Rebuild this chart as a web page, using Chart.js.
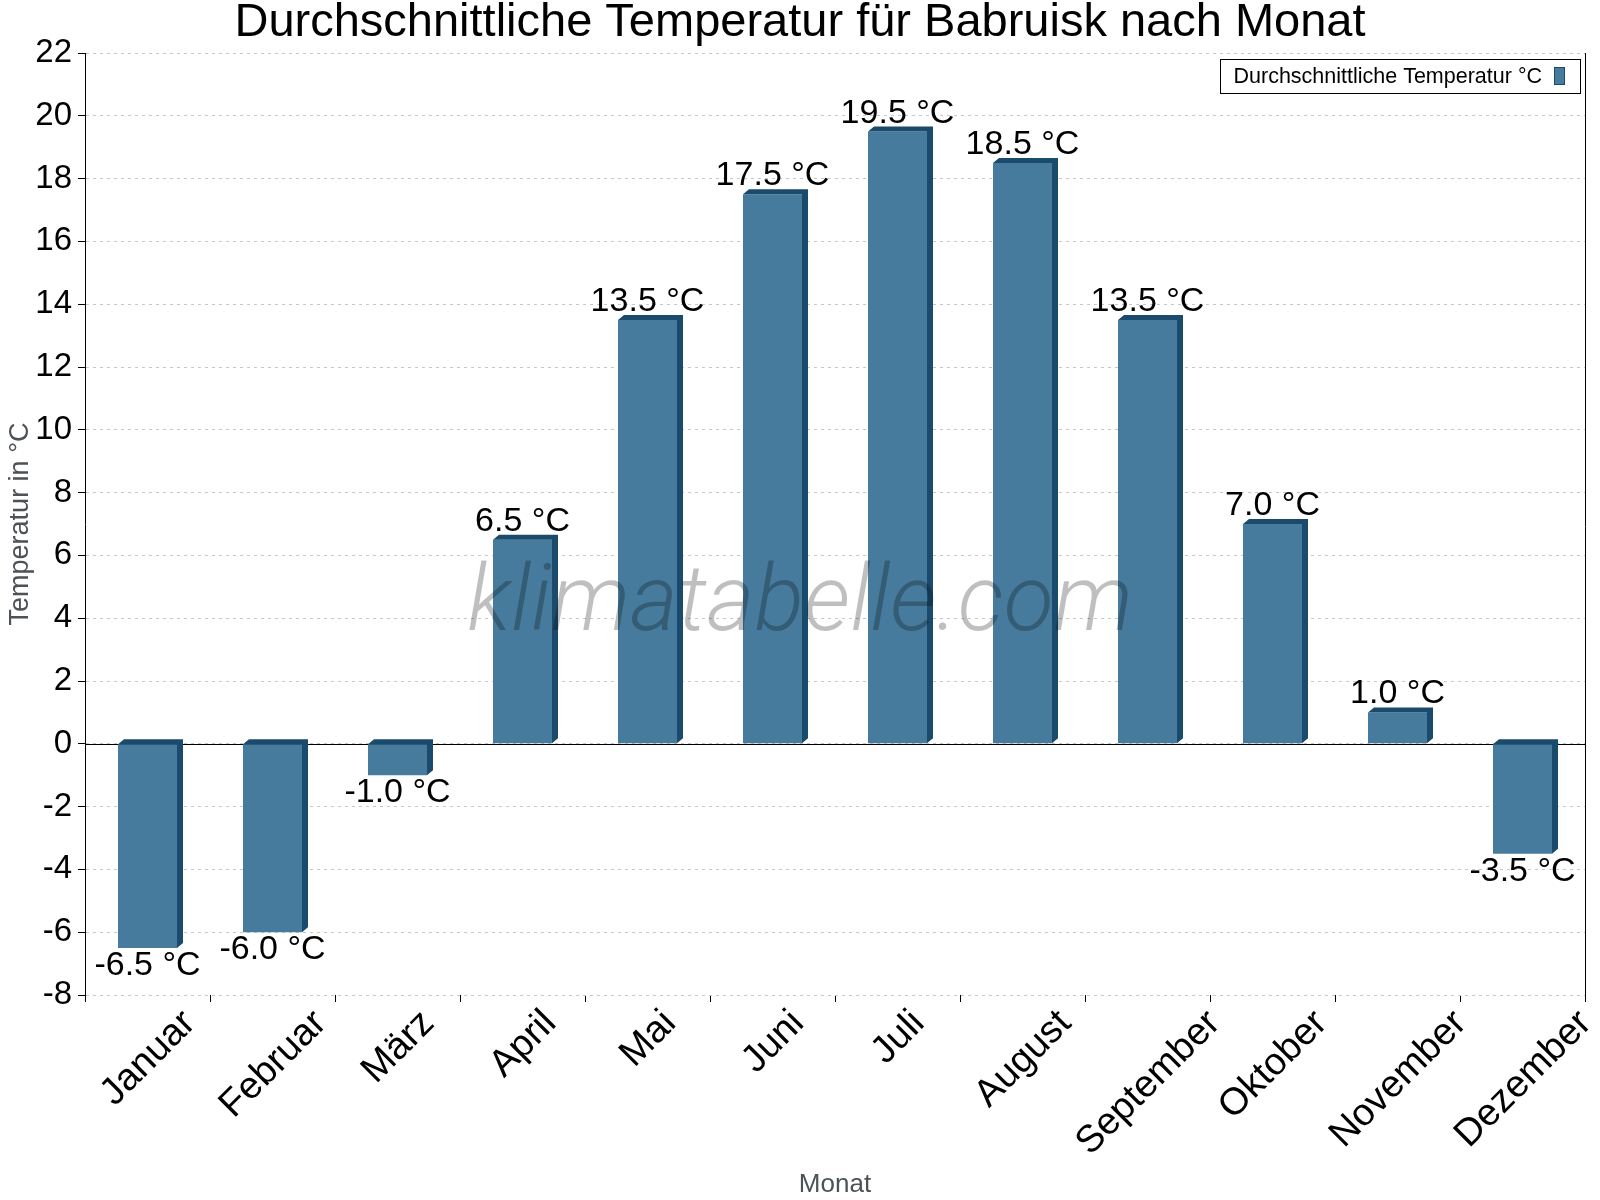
<!DOCTYPE html>
<html>
<head>
<meta charset="utf-8">
<script src="https://cdn.jsdelivr.net/npm/chart.js@4.4.1/dist/chart.umd.min.js"></script>
<style>
  html, body { margin: 0; padding: 0; background: #fff; }
</style>
</head>
<body>
<canvas id="myChart" width="1600" height="1200"></canvas>
<script>
const months = ['Januar', 'Februar', 'März', 'April', 'Mai', 'Juni', 'Juli', 'August', 'September', 'Oktober', 'November', 'Dezember'];
const temps = [-6.5, -6.0, -1.0, 6.5, 13.5, 17.5, 19.5, 18.5, 13.5, 7.0, 1.0, -3.5];
const yMin = -8;
const yMax = 22;
const yStep = 2;

const FRONT = '#467b9d';
const DARK = '#1a4b6c';
const FONT = "'Liberation Sans', Arial, sans-serif";

Chart.defaults.font.family = FONT;
Chart.defaults.color = '#000';

// dark top + right faces so the bars look like little boxes
const bars3d = {
  id: 'bars3d',
  afterDatasetsDraw(chart) {
    const { ctx } = chart;
    const dx = 6, dy = 5;
    chart.getDatasetMeta(0).data.forEach((bar) => {
      const { x, y, base, width } = bar.getProps(['x', 'y', 'base', 'width'], true);
      const l = x - width / 2, r = x + width / 2;
      const top = Math.min(y, base), bottom = Math.max(y, base);
      ctx.save();
      ctx.fillStyle = DARK;
      ctx.beginPath();
      ctx.moveTo(l, top);
      ctx.lineTo(l + dx, top - dy);
      ctx.lineTo(r + dx, top - dy);
      ctx.lineTo(r + dx, bottom - dy);
      ctx.lineTo(r, bottom);
      ctx.lineTo(r, top);
      ctx.closePath();
      ctx.fill();
      ctx.restore();
    });
  },
};

const zeroLine = {
  id: 'zeroLine',
  beforeDatasetsDraw(chart) {
    const { ctx, chartArea, scales } = chart;
    const y0 = Math.round(scales.y.getPixelForValue(0)) + 0.5;
    ctx.save();
    ctx.strokeStyle = '#000';
    ctx.lineWidth = 1;
    ctx.beginPath();
    ctx.moveTo(chartArea.left, y0);
    ctx.lineTo(chartArea.right, y0);
    ctx.stroke();
    ctx.restore();
  },
};

const valueLabels = {
  id: 'valueLabels',
  afterDatasetsDraw(chart) {
    const { ctx } = chart;
    const values = chart.data.datasets[0].data;
    ctx.save();
    ctx.font = '34px ' + FONT;
    ctx.fillStyle = '#000';
    ctx.textAlign = 'center';
    ctx.textBaseline = 'alphabetic';
    chart.getDatasetMeta(0).data.forEach((bar, i) => {
      const v = values[i];
      const { x, y } = bar.getProps(['x', 'y'], true);
      const txt = v.toFixed(1) + ' °C';
      if (v >= 0) ctx.fillText(txt, x, y - 9);
      else ctx.fillText(txt, x, y + 27);
    });
    ctx.restore();
  },
};

// month names: rotated 45° around their own centre, box centred under the category
const monthLabels = {
  id: 'monthLabels',
  afterDraw(chart) {
    const { ctx, scales } = chart;
    const xs = scales.x;
    const size = 38;
    const top = xs.top + 9;
    ctx.save();
    ctx.font = size + 'px ' + FONT;
    ctx.fillStyle = '#000';
    ctx.textAlign = 'center';
    ctx.textBaseline = 'middle';
    chart.data.labels.forEach((lab, i) => {
      const w = ctx.measureText(lab).width;
      const half = (w + size) * Math.SQRT1_2 / 2;
      ctx.save();
      ctx.translate(xs.getPixelForValue(i) + 1, top + half);
      ctx.rotate(-Math.PI / 4);
      ctx.fillText(lab, 0, 0);
      ctx.restore();
    });
    ctx.restore();
  },
};

const extras = {
  id: 'extras',
  afterDraw(chart) {
    const { ctx, chartArea } = chart;
    // right frame line
    ctx.save();
    ctx.strokeStyle = '#000';
    ctx.lineWidth = 1;
    ctx.beginPath();
    ctx.moveTo(Math.round(chartArea.right) + 0.5, chartArea.top);
    ctx.lineTo(Math.round(chartArea.right) + 0.5, chartArea.bottom + 5);
    ctx.stroke();

    // watermark
    ctx.font = 'italic 300 92px Roboto';
    ctx.fillStyle = 'rgba(0,0,0,0.25)';
    ctx.textAlign = 'center';
    ctx.textBaseline = 'alphabetic';
    ctx.fillText('klimatabelle.com', chart.width / 2, 630);

    // legend box, text first then colour swatch
    const label = chart.data.datasets[0].label;
    ctx.font = '21.5px ' + FONT;
    const tw = ctx.measureText(label).width;
    const boxR = Math.round(chartArea.right) - 5;
    const boxT = Math.round(chartArea.top) + 6;
    const swR = boxR - 16, swL = swR - 10;
    const txtR = swL - 12;
    const boxL = Math.round(txtR - tw - 13);
    ctx.fillStyle = '#fff';
    ctx.fillRect(boxL, boxT, boxR - boxL, 34);
    ctx.strokeStyle = '#000';
    ctx.strokeRect(boxL + 0.5, boxT + 0.5, boxR - boxL, 34);
    ctx.fillStyle = '#000';
    ctx.textAlign = 'left';
    ctx.textBaseline = 'middle';
    ctx.fillText(label, txtR - tw, boxT + 18);
    ctx.fillStyle = FRONT;
    ctx.fillRect(swL, boxT + 8, 10, 17);
    ctx.strokeStyle = DARK;
    ctx.strokeRect(swL + 0.5, boxT + 8.5, 10, 17);
    ctx.restore();
  },
};

const ctx = document.getElementById('myChart').getContext('2d');

const chart = new Chart(ctx, {
  type: 'bar',
  data: {
    labels: months,
    datasets: [{
      label: 'Durchschnittliche Temperatur °C',
      data: temps,
      backgroundColor: FRONT,
      borderWidth: 0,
      categoryPercentage: 1,
      barPercentage: 0.472,
    }],
  },
  options: {
    responsive: false,
    devicePixelRatio: 1,
    animation: false,
    layout: { padding: 0 },
    plugins: {
      legend: { display: false },
      tooltip: { enabled: false },
      title: {
        display: true,
        text: 'Durchschnittliche Temperatur für Babruisk nach Monat',
        color: '#000',
        font: { size: 47, weight: 'normal', lineHeight: 1 },
        padding: { top: 0, bottom: 6 },
      },
    },
    scales: {
      x: {
        grid: { display: true, drawOnChartArea: false, offset: true, tickColor: '#000', tickLength: 7 },
        border: { display: false },
        ticks: { display: false },
        title: {
          display: true,
          text: 'Monat',
          color: '#4d5259',
          font: { size: 26 },
          padding: { top: 0, bottom: 0 },
        },
        afterFit(scale) { scale.height = 205; },
      },
      y: {
        min: yMin,
        max: yMax,
        ticks: { stepSize: yStep, font: { size: 33 }, color: '#000', padding: 6 },
        grid: { color: '#c8c8c8', lineWidth: 1, tickColor: '#000', tickLength: 7, tickBorderDash: [] },
        border: { display: true, color: '#000', width: 1, dash: [3, 4] },
        title: {
          display: true,
          text: 'Temperatur in °C',
          color: '#4d5259',
          font: { size: 27 },
          padding: { top: 4, bottom: 0 },
        },
        afterFit(scale) { scale.width = 85; },
      },
      // empty spacer on the right so the title centres on the whole page
      yRight: {
        position: 'right',
        display: true,
        grid: { display: false },
        ticks: { display: false },
        border: { display: false },
        afterFit(scale) { scale.width = 15; },
      },
    },
  },
  plugins: [zeroLine, bars3d, valueLabels, monthLabels, extras],
});
</script>
</body>
</html>
